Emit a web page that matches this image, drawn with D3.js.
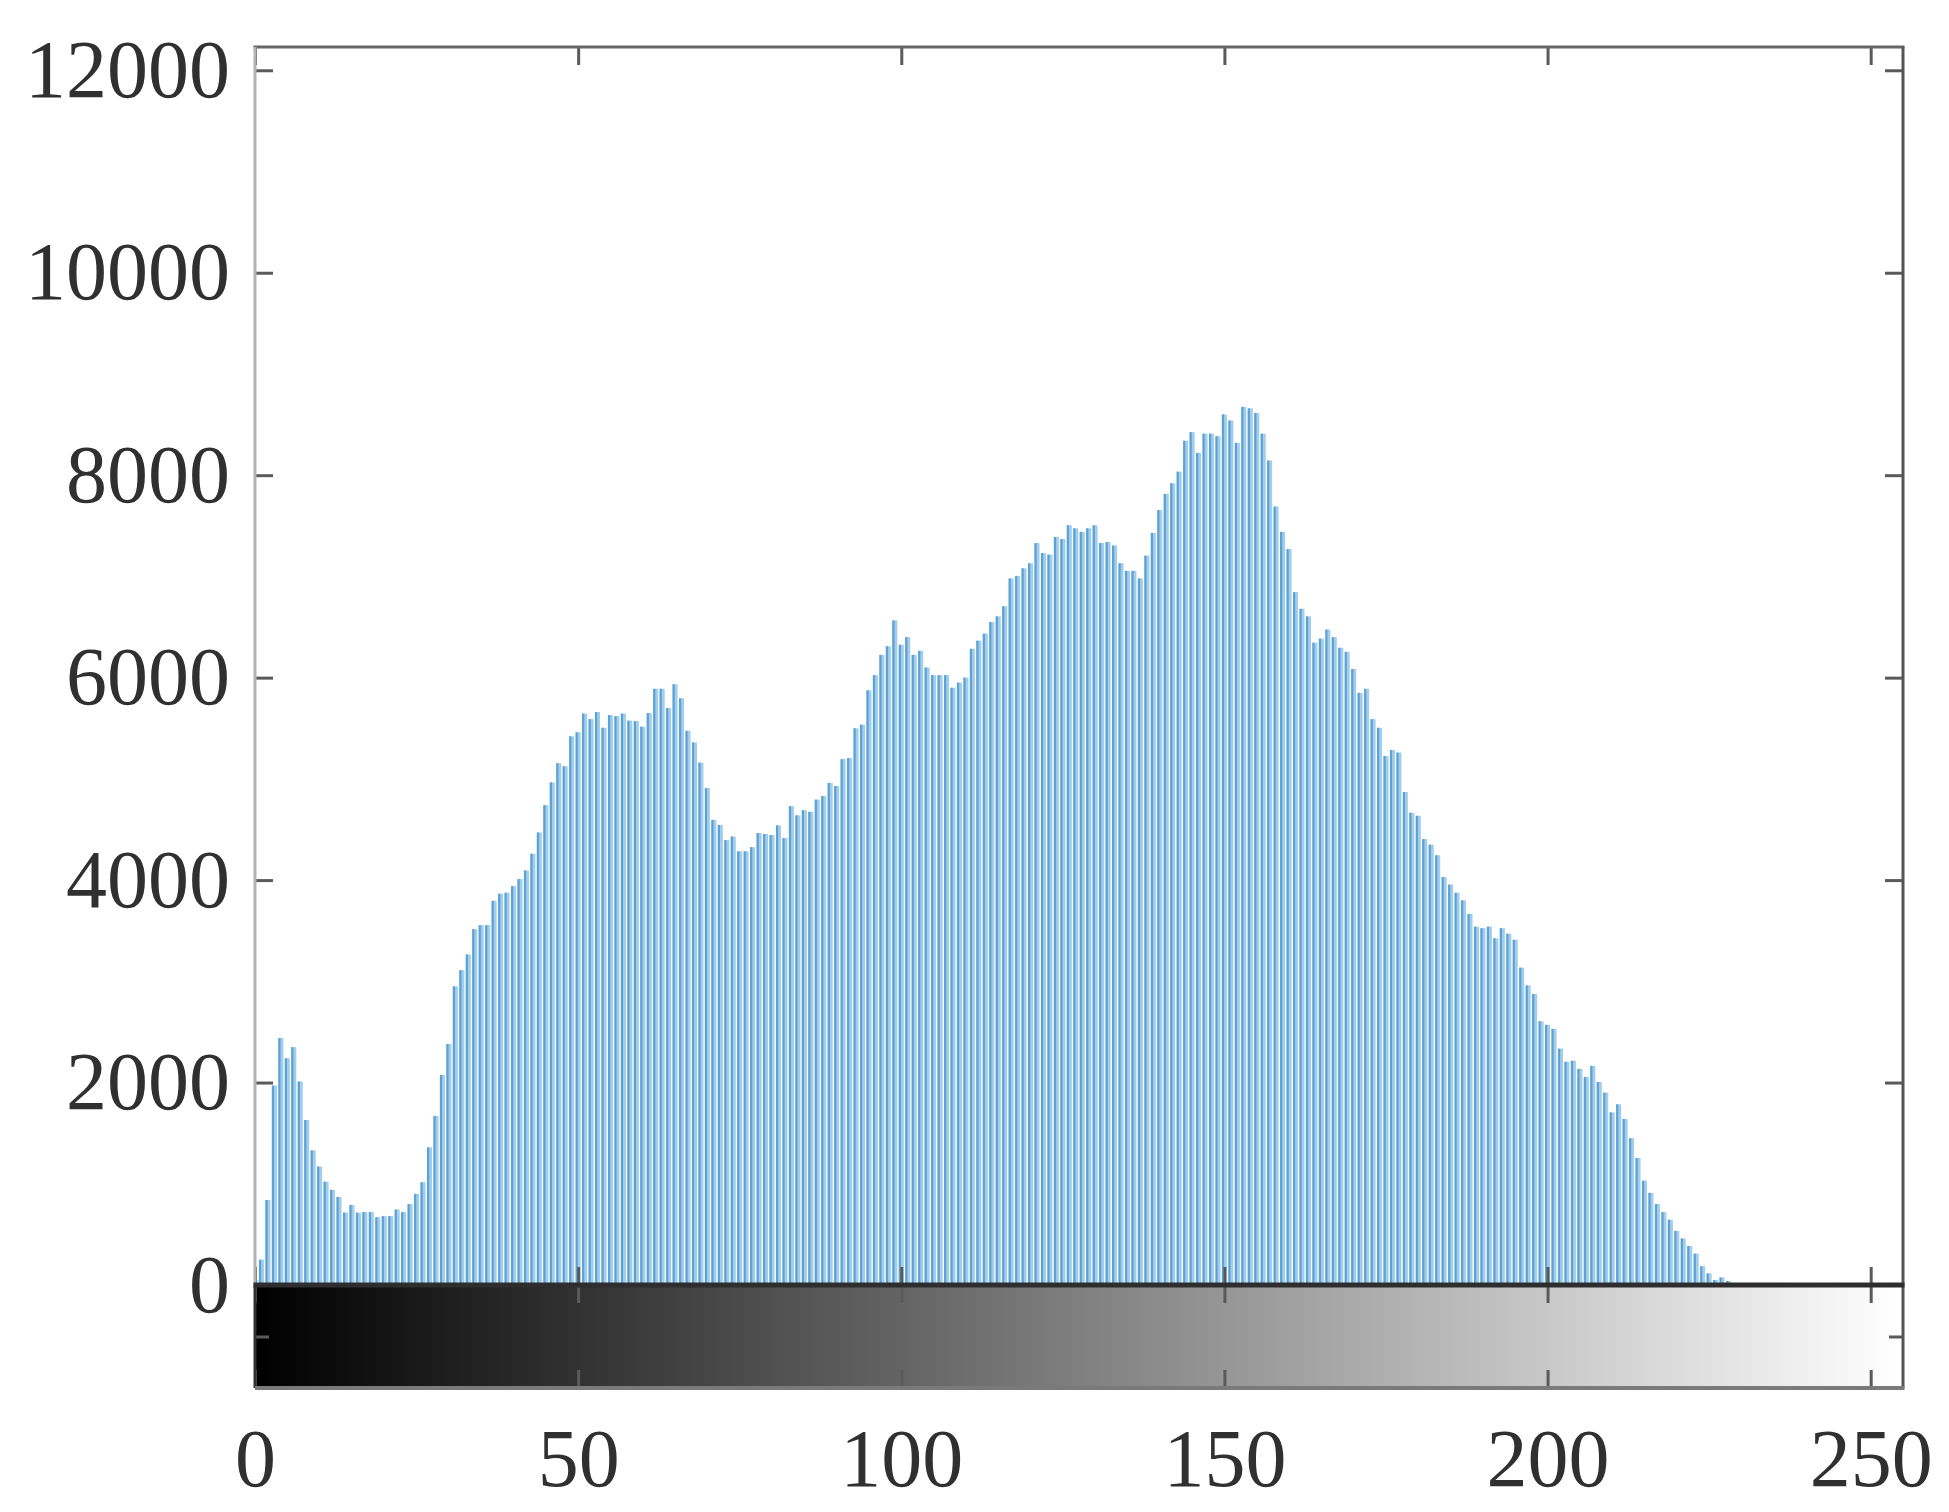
<!DOCTYPE html>
<html>
<head>
<meta charset="utf-8">
<script src="https://cdnjs.cloudflare.com/ajax/libs/d3/7.8.5/d3.min.js"></script>
<style>
  body { margin: 0; background: #fff; }
  svg { display: block; }
</style>
</head>
<body>
<svg id="chart" width="1949" height="1512"></svg>
<script>
// pixel counts per gray level 0..255
var counts = [
  50, 250, 840, 1970, 2440, 2240, 2350, 2010, 1630, 1330, 1170, 1020, 940, 870, 715, 790,
  715, 720, 720, 670, 680, 680, 745, 720, 800, 900, 1015, 1360, 1670, 2075, 2380, 2950,
  3110, 3265, 3515, 3555, 3555, 3795, 3865, 3875, 3940, 4010, 4095, 4260, 4470, 4740, 4965, 5155,
  5125, 5420, 5460, 5645, 5590, 5660, 5505, 5630, 5620, 5645, 5575, 5570, 5515, 5650, 5890, 5890,
  5700, 5935, 5795, 5475, 5360, 5160, 4910, 4595, 4545, 4395, 4430, 4285, 4285, 4325, 4465, 4455,
  4445, 4540, 4415, 4730, 4640, 4690, 4675, 4795, 4830, 4960, 4930, 5195, 5205, 5500, 5535, 5875,
  6025, 6225, 6310, 6565, 6325, 6400, 6225, 6265, 6100, 6025, 6025, 6025, 5900, 5950, 6000, 6285,
  6365, 6435, 6550, 6605, 6705, 6980, 7005, 7080, 7130, 7330, 7230, 7215, 7390, 7370, 7505, 7475,
  7440, 7475, 7505, 7330, 7340, 7305, 7130, 7055, 7055, 6980, 7205, 7430, 7655, 7815, 7920, 8035,
  8340, 8425, 8220, 8410, 8410, 8385, 8600, 8540, 8320, 8675, 8660, 8615, 8410, 8145, 7690, 7440,
  7270, 6845, 6680, 6605, 6345, 6385, 6475, 6400, 6295, 6255, 6085, 5850, 5890, 5590, 5505, 5225,
  5285, 5260, 4870, 4665, 4635, 4405, 4350, 4245, 4030, 3955, 3875, 3800, 3665, 3540, 3525, 3540,
  3425, 3525, 3470, 3410, 3135, 2960, 2875, 2605, 2570, 2530, 2335, 2205, 2215, 2135, 2055, 2165,
  2005, 1900, 1705, 1785, 1640, 1450, 1255, 1030, 910, 800, 720, 645, 535, 460, 385, 310,
  185, 115, 50, 75, 40, 10, 0, 0, 0, 0, 0, 0, 0, 0, 0, 0,
  0, 0, 0, 0, 0, 0, 0, 0, 0, 0, 0, 0, 0, 0, 0, 0
];
var levels = d3.range(256);
var xTicks = [0, 50, 100, 150, 200, 250];
var yTicks = [0, 2000, 4000, 6000, 8000, 10000, 12000];

var svg = d3.select("#chart");

var leftX = 255, rightX = 1903, topY = 47, zeroY = 1285, barBottom = 1388;
var tick = 18;
var font = "'Liberation Serif', 'DejaVu Serif', serif";

var x = d3.scaleLinear().domain([0, 255]).range([leftX, rightX]);
var y = d3.scaleLinear().domain([0, 12230]).range([zeroY, topY]);

// histogram bars: light body with a darker left edge
var bw = (x(1) - x(0)) * 0.78;
var nonzero = levels.filter(function(d){ return counts[d] > 0; });
var bars = svg.append("g").attr("class", "bars");
function x0(d){ return Math.max(leftX, x(d) - bw / 2); }
function wid(d){ return x(d) + bw / 2 - x0(d); }
bars.selectAll("rect.body")
  .data(nonzero)
  .enter().append("rect").attr("class", "body")
    .attr("x", x0)
    .attr("width", wid)
    .attr("y", function(d){ return y(counts[d]); })
    .attr("height", function(d){ return zeroY - y(counts[d]); })
    .style("fill", "#a3cdea");
bars.selectAll("rect.edge")
  .data(nonzero)
  .enter().append("rect").attr("class", "edge")
    .attr("x", x0)
    .attr("width", function(d){ return Math.min(2.2, wid(d)); })
    .attr("y", function(d){ return y(counts[d]); })
    .attr("height", function(d){ return zeroY - y(counts[d]); })
    .style("fill", "#5aa3d6");

// gray colorbar under the histogram
var grad = svg.append("defs").append("linearGradient")
  .attr("id", "grayramp")
  .attr("gradientUnits", "userSpaceOnUse")
  .attr("x1", x(0)).attr("x2", x(255)).attr("y1", 0).attr("y2", 0);
grad.append("stop").attr("offset", "0%").attr("stop-color", "#000");
grad.append("stop").attr("offset", "100%").attr("stop-color", "#fff");

svg.append("rect")
  .attr("x", leftX).attr("y", zeroY)
  .attr("width", rightX - leftX).attr("height", barBottom - zeroY)
  .style("fill", "url(#grayramp)");

// histogram axes: y labels + inward ticks
svg.append("g")
  .attr("transform", "translate(" + leftX + ",0)")
  .call(d3.axisLeft(y).tickValues(yTicks).tickSize(-tick).tickPadding(25).tickFormat(d3.format("d")));
svg.append("g")
  .attr("transform", "translate(" + rightX + ",0)")
  .call(d3.axisRight(y).tickValues(yTicks).tickSize(-tick).tickFormat(""));
svg.append("g")
  .attr("transform", "translate(0," + topY + ")")
  .call(d3.axisTop(x).tickValues(xTicks).tickSize(-tick).tickFormat(""));
svg.append("g")
  .attr("transform", "translate(0," + zeroY + ")")
  .call(d3.axisBottom(x).tickValues(xTicks).tickSize(-tick).tickFormat(""));

// colorbar ticks and x labels
svg.append("g")
  .attr("transform", "translate(0," + zeroY + ")")
  .call(d3.axisTop(x).tickValues(xTicks).tickSize(-tick).tickFormat(""));
svg.append("g")
  .attr("transform", "translate(0," + barBottom + ")")
  .call(d3.axisBottom(x).tickValues(xTicks).tickSize(-tick).tickPadding(40));
var cbY = d3.scaleLinear().domain([0, 1]).range([barBottom, zeroY]);
svg.append("g").attr("transform", "translate(" + leftX + ",0)")
  .call(d3.axisLeft(cbY).tickValues([0.5]).tickSize(-14).tickFormat(""));
svg.append("g").attr("transform", "translate(" + rightX + ",0)")
  .call(d3.axisRight(cbY).tickValues([0.5]).tickSize(-14).tickFormat(""));

svg.selectAll(".domain").remove();
svg.selectAll(".tick line").style("stroke", "#5a5a5a").style("stroke-width", 3);
svg.selectAll(".tick text")
  .style("font-family", font)
  .style("font-size", "82px")
  .style("fill", "#303030");

// box lines
function edge(x1, y1, x2, y2, col, w) {
  svg.append("line")
    .attr("x1", x1).attr("y1", y1).attr("x2", x2).attr("y2", y2)
    .style("stroke", col).style("stroke-width", w);
}
edge(leftX - 1.5, topY, rightX + 1.5, topY, "#666", 3);
edge(rightX, topY, rightX, barBottom, "#555", 3);
edge(leftX, topY, leftX, zeroY, "#b4b4b4", 3);
edge(leftX, zeroY, leftX, barBottom, "#333", 3);
edge(leftX, barBottom, rightX + 1.5, barBottom, "#7a7a7a", 4);
edge(leftX - 1.5, zeroY, rightX + 1.5, zeroY, "#2e2e2e", 5);
</script>
</body>
</html>
